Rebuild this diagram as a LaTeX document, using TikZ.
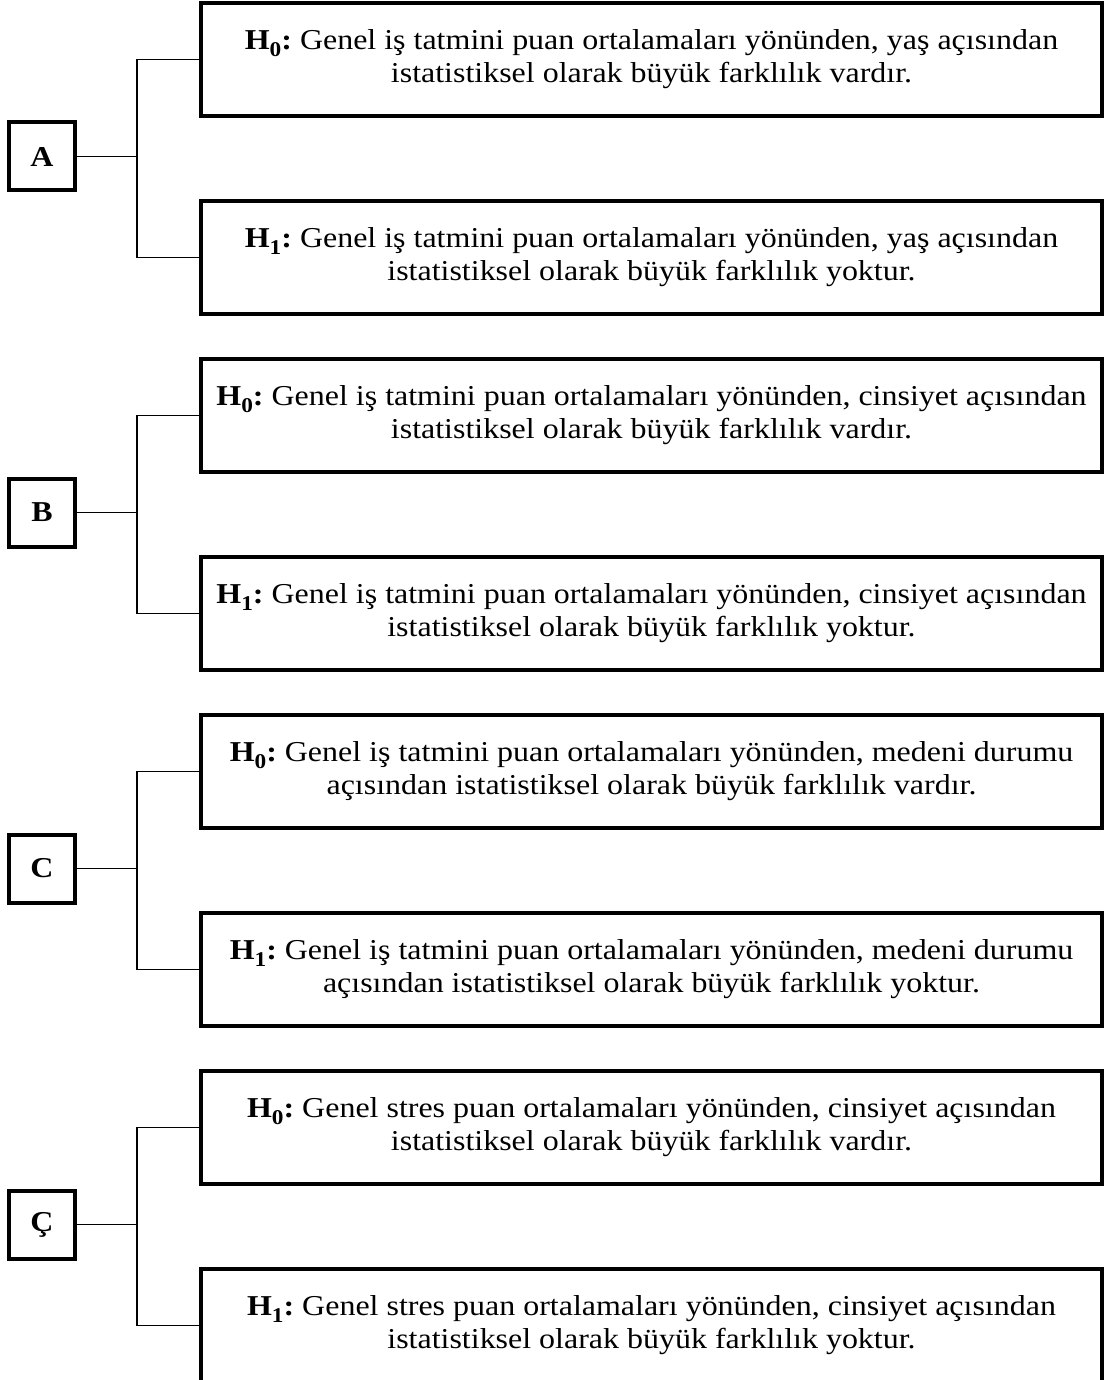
\documentclass[tikz,border=0pt]{standalone}
\usepackage{fontspec}
\setmainfont[FakeStretch=1.11]{Liberation Serif}
\usetikzlibrary{positioning}
\tikzset{
    hypbox/.style={
        rectangle, draw=black, line width=2pt, fill=white,
        minimum width=450.5pt, minimum height=56.5pt,
        align=center, font=\fontsize{14.4}{16.5}\selectfont
    },
    tagbox/.style={
        rectangle, draw=black, line width=2pt, fill=white,
        minimum width=33pt, minimum height=34pt,
        font=\fontsize{14.4}{16.5}\selectfont\bfseries
    },
    link/.style={draw=black, line width=0.65pt}
}
\newcommand{\hsub}[1]{\raisebox{-3.5pt}{\fontsize{10.5}{10.5}\selectfont #1}}
\newcommand{\hzero}{\textbf{H\hsub{0}:} }
\newcommand{\hone}{\textbf{H\hsub{1}:} }

\begin{document}
\frenchspacing
\begin{tikzpicture}[x=0.5pt, y=-0.5pt, node distance=40.5pt]
\useasboundingbox (0,0) rectangle (1108,1380);

% Group A
\node[hypbox] (hA0) at (651.5,59.5) {\hzero Genel iş tatmini puan ortalamaları yönünden, yaş açısından\\istatistiksel olarak büyük farklılık vardır.};
\node[hypbox, below=of hA0] (hA1) {\hone Genel iş tatmini puan ortalamaları yönünden, yaş açısından\\istatistiksel olarak büyük farklılık yoktur.};
\node[tagbox] (A) at (42,156.5) {A};

% Group B
\node[hypbox] (hB0) at (651.5,415.5) {\hzero Genel iş tatmini puan ortalamaları yönünden, cinsiyet açısından\\istatistiksel olarak büyük farklılık vardır.};
\node[hypbox, below=of hB0] (hB1) {\hone Genel iş tatmini puan ortalamaları yönünden, cinsiyet açısından\\istatistiksel olarak büyük farklılık yoktur.};
\node[tagbox] (B) at (42,512.5) {B};

% Group C
\node[hypbox] (hC0) at (651.5,771.5) {\hzero Genel iş tatmini puan ortalamaları yönünden, medeni durumu\\açısından istatistiksel olarak büyük farklılık vardır.};
\node[hypbox, below=of hC0] (hC1) {\hone Genel iş tatmini puan ortalamaları yönünden, medeni durumu\\açısından istatistiksel olarak büyük farklılık yoktur.};
\node[tagbox] (C) at (42,868.5) {C};

% Group Ç
\node[hypbox] (hD0) at (651.5,1127.5) {\hzero Genel stres puan ortalamaları yönünden, cinsiyet açısından\\istatistiksel olarak büyük farklılık vardır.};
\node[hypbox, below=of hD0] (hD1) {\hone Genel stres puan ortalamaları yönünden, cinsiyet açısından\\istatistiksel olarak büyük farklılık yoktur.};
\node[tagbox] (D) at (42,1224.5) {Ç};

% Brackets
\foreach \g in {A,B,C,D}{
    \draw[link] (\g.east) -- ++(30pt,0) coordinate (j\g);
    \draw[link] (h\g0.west) -| (j\g) |- (h\g1.west);
}

\end{tikzpicture}
\end{document}
